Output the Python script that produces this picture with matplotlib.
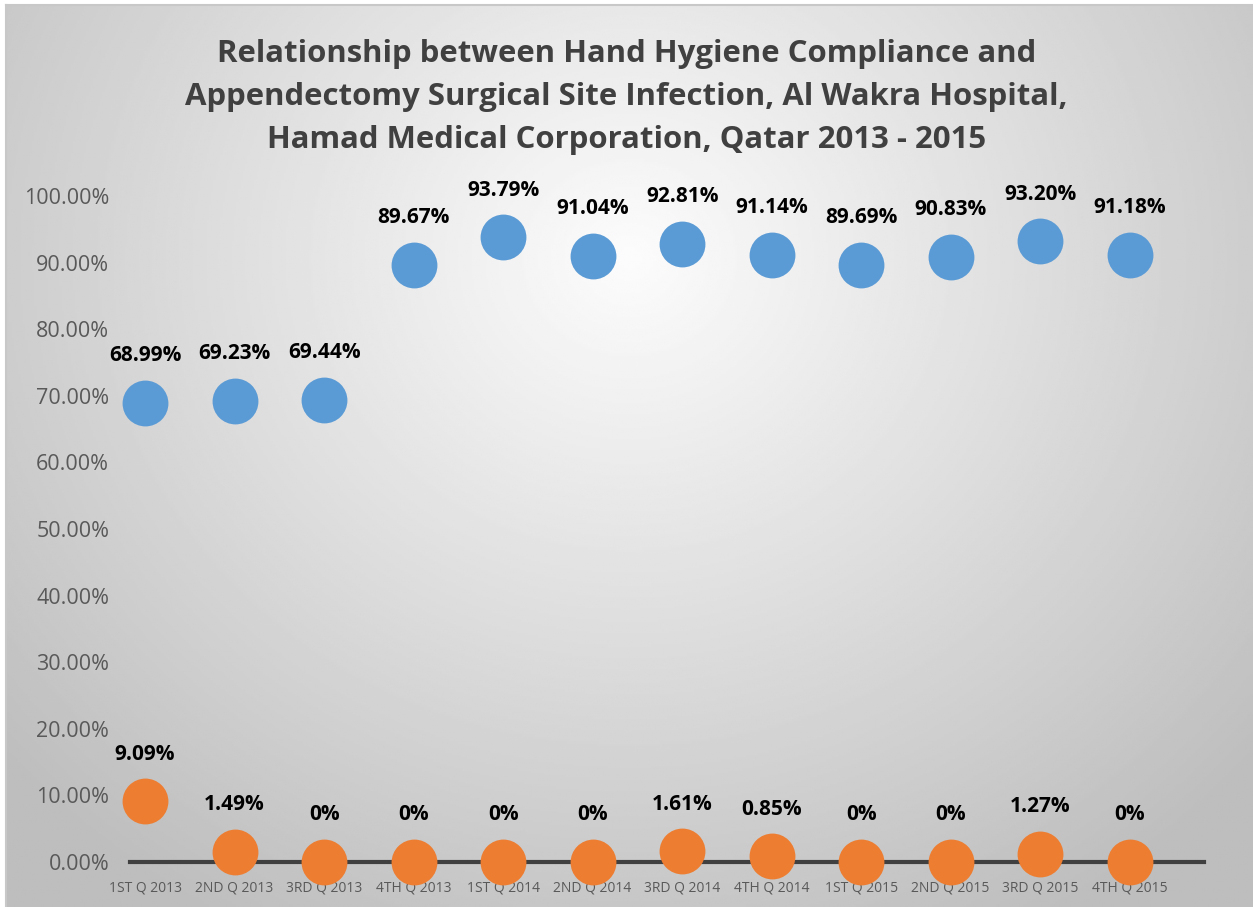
import matplotlib.pyplot as plt
from matplotlib.ticker import FuncFormatter
import numpy as np

quarters = ['1ST Q 2013', '2ND Q 2013', '3RD Q 2013', '4TH Q 2013',
            '1ST Q 2014', '2ND Q 2014', '3RD Q 2014', '4TH Q 2014',
            '1ST Q 2015', '2ND Q 2015', '3RD Q 2015', '4TH Q 2015']
hand_hygiene = [68.99, 69.23, 69.44, 89.67, 93.79, 91.04, 92.81, 91.14, 89.69, 90.83, 93.20, 91.18]
ssi_rate = [9.09, 1.49, 0, 0, 0, 0, 1.61, 0.85, 0, 0, 1.27, 0]
y_ticks = [0, 10, 20, 30, 40, 50, 60, 70, 80, 90, 100]

plt.rcParams['font.family'] = ['Open Sans', 'DejaVu Sans']

W, H = 1253, 907
fig = plt.figure(figsize=(W / 100, H / 100), dpi=100)

# background: radial grey gradient inside a thin frame
bg = fig.add_axes([6 / W, 0, 1 - 6 / W, 1 - 5 / H])
yy, xx = np.mgrid[0:1:400j, 0:1:550j]
r = np.sqrt(((xx - 0.5) / 0.75) ** 2 + ((yy - 0.28) / 0.95) ** 2)
shade = np.clip(252 - 70 * r, 190, 252) / 255
bg.imshow(shade, cmap='gray', vmin=0, vmax=1, aspect='auto', extent=[0, 1, 1, 0])
bg.set_xticks([])
bg.set_yticks([])
for s in bg.spines.values():
    s.set_color('#c8c8c8')
    s.set_linewidth(1.5)
bg.spines['right'].set_visible(False)
bg.spines['bottom'].set_visible(False)

# plot area: y 0% at 862 px, 100% at 196 px; x points from 145 to 1130 px
x = np.arange(len(quarters))
ax = fig.add_axes([130 / W, (H - 862) / H, (1204 - 130) / W, (862 - 196) / H])
ax.patch.set_alpha(0)
ax.set_xlim(-0.168, 11.83)
ax.set_ylim(0, 100)
for s in ['top', 'right', 'left']:
    ax.spines[s].set_visible(False)
ax.spines['bottom'].set_color('#404040')
ax.spines['bottom'].set_linewidth(3)
ax.spines['bottom'].set_zorder(1)

# markers sit above the axis line but below the category labels
ax.plot(x, hand_hygiene, 'o', color='#5B9BD5', markersize=33, markeredgewidth=0, clip_on=False, zorder=2)
ax.plot(x, ssi_rate, 'o', color='#ED7D31', markersize=33, markeredgewidth=0, clip_on=False, zorder=2)

for xi, v in zip(x, hand_hygiene):
    ax.annotate(f'{v:.2f}%', (xi, v), xytext=(0, 34), textcoords='offset points',
                ha='center', va='center', fontsize=15, fontweight='bold', color='black')
for xi, v in zip(x, ssi_rate):
    lab = '0%' if v == 0 else f'{v:.2f}%'
    ax.annotate(lab, (xi, v), xytext=(0, 34), textcoords='offset points',
                ha='center', va='center', fontsize=15, fontweight='bold', color='black')

ax.set_yticks(y_ticks)
ax.yaxis.set_major_formatter(FuncFormatter(lambda v, p: f'{v:.2f}%'))
ax.tick_params(axis='y', length=0, labelsize=15.5, labelcolor='#595959', pad=15)
ax.set_xticks(x)
ax.set_xticklabels(quarters)
ax.tick_params(axis='x', length=0, labelsize=10, labelcolor='#595959', pad=13)

fig.text(0.5, 1 - 97 / H,
         'Relationship between Hand Hygiene Compliance and\n'
         'Appendectomy Surgical Site Infection, Al Wakra Hospital,\n'
         'Hamad Medical Corporation, Qatar 2013 - 2015',
         ha='center', va='center', fontsize=22.4, fontweight='bold', color='#404040',
         linespacing=1.56)

fig.savefig('out.png', dpi=100)
